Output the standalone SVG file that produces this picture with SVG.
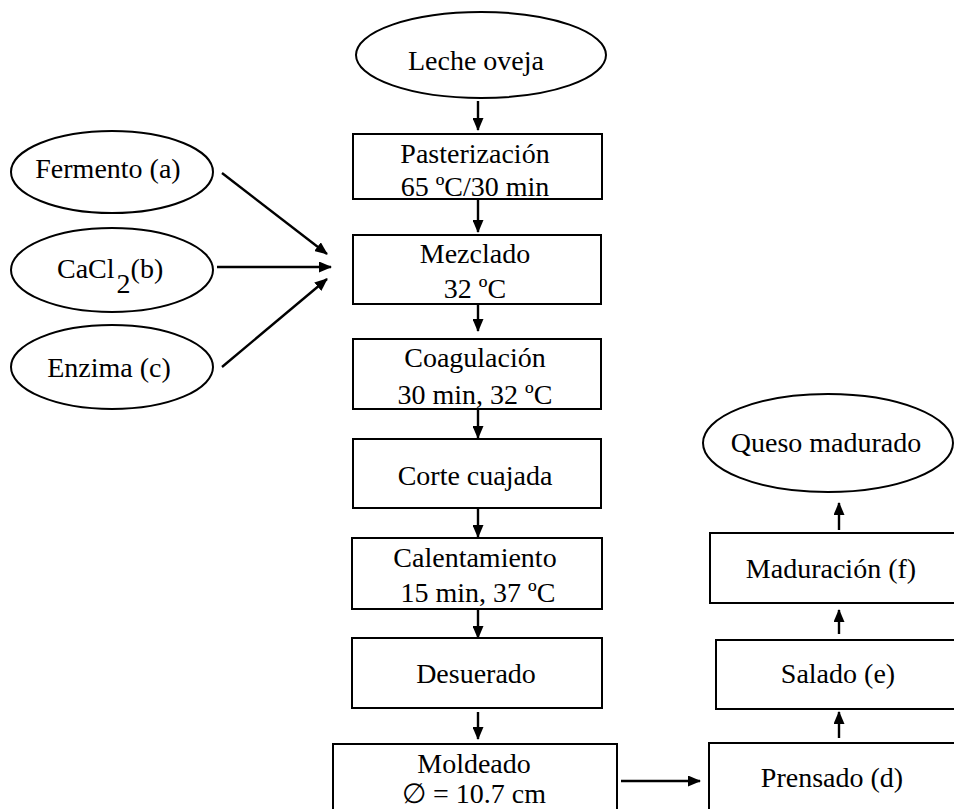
<svg xmlns="http://www.w3.org/2000/svg" width="954" height="809" viewBox="0 0 954 809">
<style>
.shape{fill:#fff;stroke:#000;stroke-width:2}
.t{font-family:"Liberation Serif","Times New Roman",serif;font-size:28px;fill:#000;text-anchor:middle}
.c{stroke:#000;stroke-width:2.4;fill:none}
</style>
<defs>
<marker id="ah" markerUnits="userSpaceOnUse" markerWidth="13" markerHeight="11" refX="12" refY="5.5" orient="auto">
<path d="M0,0 L13,5.5 L0,11 z" fill="#000"/>
</marker>
</defs>
<rect width="954" height="809" fill="#fff"/>
<g id="leche"><ellipse class="shape" cx="481" cy="55" rx="125" ry="43"/><text class="t" x="476" y="70">Leche oveja</text></g>
<g id="pasterizacion"><rect class="shape" x="353" y="134" width="249" height="65"/><text class="t" x="475" y="163">Pasterización</text><text class="t" x="475" y="196">65 ºC/30 min</text></g>
<g id="mezclado"><rect class="shape" x="353" y="235" width="248" height="69"/><text class="t" x="475" y="263">Mezclado</text><text class="t" x="475" y="298">32 ºC</text></g>
<g id="coagulacion"><rect class="shape" x="353" y="339" width="248" height="70"/><text class="t" x="475" y="367">Coagulación</text><text class="t" x="475" y="404">30 min, 32  ºC</text></g>
<g id="corte"><rect class="shape" x="353" y="439" width="248" height="69"/><text class="t" x="475" y="485">Corte cuajada</text></g>
<g id="calentamiento"><rect class="shape" x="352" y="538" width="250" height="71"/><text class="t" x="475" y="567">Calentamiento</text><text class="t" x="478" y="602"> 15 min, 37  ºC</text></g>
<g id="desuerado"><rect class="shape" x="352" y="638" width="250" height="70"/><text class="t" x="476" y="683">Desuerado</text></g>
<g id="moldeado"><rect class="shape" x="333" y="744" width="284" height="80"/><text class="t" x="474" y="773">Moldeado</text><text class="t" x="474" y="803">∅ = 10.7 cm</text></g>
<g id="prensado"><rect class="shape" x="709" y="743" width="260" height="80"/><text class="t" x="832" y="787">Prensado (d)</text></g>
<g id="salado"><rect class="shape" x="716" y="640" width="260" height="69"/><text class="t" x="838" y="683">Salado (e)</text></g>
<g id="maduracion"><rect class="shape" x="710" y="533" width="260" height="70"/><text class="t" x="831" y="578">Maduración (f)</text></g>
<g id="queso"><ellipse class="shape" cx="828" cy="443" rx="125" ry="49"/><text class="t" x="826" y="452">Queso madurado</text></g>
<g id="fermento"><ellipse class="shape" cx="112" cy="172" rx="101" ry="41"/><text class="t" x="108" y="178">Fermento (a)</text></g>
<g id="cacl2"><ellipse class="shape" cx="112" cy="270" rx="101" ry="42"/><text class="t" x="57" y="278" style="text-anchor:start">CaCl<tspan dx="2" dy="15">2</tspan><tspan dy="-15">(b)</tspan></text></g>
<g id="enzima"><ellipse class="shape" cx="112" cy="367" rx="101" ry="42"/><text class="t" x="109" y="377">Enzima (c)</text></g>
<g id="connectors">
<line class="c" x1="478" y1="101" x2="478" y2="130" marker-end="url(#ah)"/>
<line class="c" x1="478" y1="199" x2="478" y2="232" marker-end="url(#ah)"/>
<line class="c" x1="478" y1="304" x2="478" y2="331" marker-end="url(#ah)"/>
<line class="c" x1="478" y1="409" x2="478" y2="438" marker-end="url(#ah)"/>
<line class="c" x1="478" y1="508" x2="478" y2="537" marker-end="url(#ah)"/>
<line class="c" x1="478" y1="609" x2="478" y2="638" marker-end="url(#ah)"/>
<line class="c" x1="478" y1="712" x2="478" y2="739" marker-end="url(#ah)"/>
<line class="c" x1="621" y1="781" x2="700" y2="781" marker-end="url(#ah)"/>
<line class="c" x1="839" y1="738" x2="839" y2="712" marker-end="url(#ah)"/>
<line class="c" x1="839" y1="634" x2="839" y2="610" marker-end="url(#ah)"/>
<line class="c" x1="839" y1="530" x2="839" y2="503" marker-end="url(#ah)"/>
<line class="c" x1="222" y1="173" x2="327" y2="254" marker-end="url(#ah)"/>
<line class="c" x1="217" y1="267" x2="331" y2="267" marker-end="url(#ah)"/>
<line class="c" x1="222" y1="367" x2="327" y2="279" marker-end="url(#ah)"/>
</g>
</svg>
